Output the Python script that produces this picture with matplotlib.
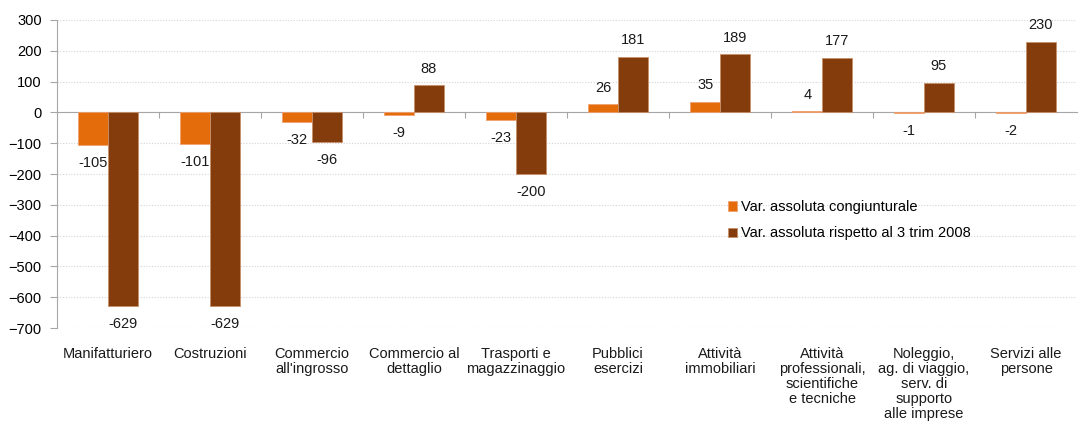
import numpy as np
import matplotlib.pyplot as plt

plt.rcParams["font.family"] = ["Liberation Sans", "DejaVu Sans"]
plt.rcParams["font.size"] = 10.5

categories = [
    "Manifatturiero",
    "Costruzioni",
    "Commercio\nall'ingrosso",
    "Commercio al\ndettaglio",
    "Trasporti e\nmagazzinaggio",
    "Pubblici\nesercizi",
    "Attività\nimmobiliari",
    "Attività\nprofessionali,\nscientifiche\ne tecniche",
    "Noleggio,\nag. di viaggio,\nserv. di\nsupporto\nalle imprese",
    "Servizi alle\npersone",
]
var_congiunturale = [-105, -101, -32, -9, -23, 26, 35, 4, -1, -2]
var_2008 = [-629, -629, -96, 88, -200, 181, 189, 177, 95, 230]
series_names = ["Var. assoluta congiunturale", "Var. assoluta rispetto al 3 trim 2008"]
y_ticks = list(range(-700, 301, 100))

ORANGE = "#E46C0A"
BROWN = "#843C0C"

fig = plt.figure(figsize=(10.83, 4.30), dpi=100)
ax = fig.add_axes([0.0526, 0.237, 0.9419, 0.7165])

x = np.arange(len(categories))
w = 0.29
bars1 = ax.bar(x - w / 2, var_congiunturale, w, color=ORANGE, edgecolor="#F0A070",
               linewidth=0.6, label=series_names[0], zorder=3)
bars2 = ax.bar(x + w / 2, var_2008, w, color=BROWN, edgecolor="#C8906A",
               linewidth=0.6, label=series_names[1], zorder=3)

# value labels above positive bars, below negative ones
for bars, vals in [(bars1, var_congiunturale), (bars2, var_2008)]:
    for b, v in zip(bars, vals):
        off = 12 if v >= 0 else -13
        ax.annotate(str(v), (b.get_x() + b.get_width() / 2, v),
                    xytext=(0, off), textcoords="offset points",
                    ha="center", va="center", color="#1a1a1a", zorder=4)

ax.set_xlim(-0.5, len(categories) - 0.5)
ax.set_ylim(-700, 300)
ax.set_yticks(y_ticks)
ax.yaxis.grid(True, linestyle=(0, (1, 1.5)), color="#D4D4D4", linewidth=0.8, zorder=0)

# x axis sits at zero, ticks between categories
ax.spines["bottom"].set_position(("data", 0))
ax.spines["bottom"].set_color("#A6A6A6")
ax.spines["left"].set_color("#A6A6A6")
ax.spines["top"].set_visible(False)
ax.spines["right"].set_visible(False)
ax.set_xticks(x[:-1] + 0.5)
ax.set_xticklabels([])
ax.tick_params(axis="x", length=4, color="#A6A6A6", direction="out")
ax.tick_params(axis="y", length=5, color="#A6A6A6", pad=6)

for xi, cat in zip(x, categories):
    ax.text(xi, -0.06, cat, transform=ax.get_xaxis_transform(), ha="center",
            va="top", linespacing=1.1, color="#1a1a1a")

ax.legend(loc="center left", bbox_to_anchor=(0.645, 0.35), frameon=False,
          handlelength=0.6, handleheight=0.6, handletextpad=0.3,
          labelspacing=0.85)

fig.savefig("out.png", dpi=100)
